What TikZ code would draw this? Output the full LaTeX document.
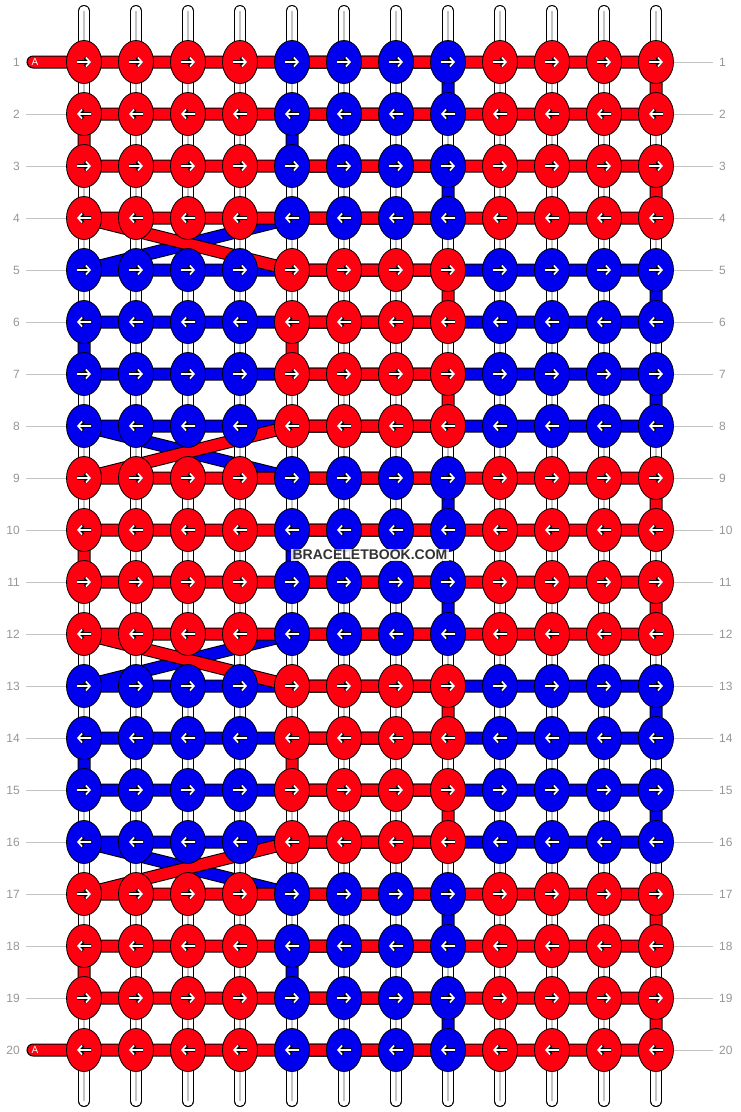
\documentclass[tikz,border=0pt]{standalone}
\usepackage{fontspec}
\setmainfont{Liberation Sans}
\usetikzlibrary{shapes.geometric,arrows.meta}
\definecolor{knotred}{RGB}{255,0,16}
\definecolor{knotblue}{RGB}{0,0,238}
\definecolor{lblgray}{RGB}{150,150,150}
\definecolor{linegray}{RGB}{195,195,195}
\definecolor{brandgray}{RGB}{51,51,51}

\begin{document}
\begin{tikzpicture}[x=1pt,y=-1pt]
\tikzstyle{every node}+=[inner sep=0pt]
\tikzstyle{knot}=[ellipse,draw=black,line width=0.8pt,minimum width=35pt,minimum height=43pt]
\tikzstyle{rim}=[black,line width=13pt,line cap=round,line join=round]
\tikzstyle{strand}=[line width=11pt,line cap=round,line join=round]
\tikzstyle{rowlbl}=[text=lblgray,font=\fontsize{12}{12}\selectfont,inner xsep=6pt]
\tikzstyle{arwrim}=[black,line width=3.2pt,-{Straight Barb[length=4pt,width=9pt]}]
\tikzstyle{arw}=[white,line width=1.6pt,-{Straight Barb[length=4pt,width=9pt]}]
\useasboundingbox (0,0) rectangle (740,1112);

\foreach \r in {1,...,20}
  \foreach \c in {1,...,12}
    \coordinate (p-\r-\c) at ({84+52*(\c-1)},{62+52*(\r-1)});
\coordinate (leadA) at (33,62);
\coordinate (leadZ) at (33,1050);

\foreach \c in {1,...,12} {
  \coordinate (top-\c) at ({84+52*(\c-1)},11);
  \coordinate (bot-\c) at ({84+52*(\c-1)},1101);
  \draw [black,line width=12pt,line cap=round] (top-\c) -- (bot-\c);
  \draw [white,line width=10pt,line cap=round] (top-\c) -- (bot-\c);
  \draw [linegray,line width=1.5pt] (top-\c) -- (bot-\c);
}

\foreach \r in {1,...,20} {
  \node [rowlbl,anchor=east] (ll-\r) at (26,{62+52*(\r-1)}) {\r};
  \node [rowlbl,anchor=west] (lr-\r) at (713,{62+52*(\r-1)}) {\r};
  \draw [linegray,line width=1pt] (ll-\r.east) -- (p-\r-1);
  \draw [linegray,line width=1pt] (p-\r-12) -- (lr-\r.west);
}

\def\bluepath{(p-1-5) -- (p-1-8) -- (p-2-8) -- (p-2-5) -- (p-3-5) -- (p-3-8) -- (p-4-8) -- (p-4-5)
  -- (p-5-1) -- (p-5-12) -- (p-6-12) -- (p-6-1) -- (p-7-1) -- (p-7-12) -- (p-8-12) -- (p-8-1)
  -- (p-9-5) -- (p-9-8) -- (p-10-8) -- (p-10-5) -- (p-11-5) -- (p-11-8) -- (p-12-8) -- (p-12-5)
  -- (p-13-1) -- (p-13-12) -- (p-14-12) -- (p-14-1) -- (p-15-1) -- (p-15-12) -- (p-16-12) -- (p-16-1)
  -- (p-17-5) -- (p-17-8) -- (p-18-8) -- (p-18-5) -- (p-19-5) -- (p-19-8) -- (p-20-8) -- (p-20-5)}
\def\redpath{(leadA) -- (p-1-12) -- (p-2-12) -- (p-2-1) -- (p-3-1) -- (p-3-12) -- (p-4-12) -- (p-4-1)
  -- (p-5-5) -- (p-5-8) -- (p-6-8) -- (p-6-5) -- (p-7-5) -- (p-7-8) -- (p-8-8) -- (p-8-5)
  -- (p-9-1) -- (p-9-12) -- (p-10-12) -- (p-10-1) -- (p-11-1) -- (p-11-12) -- (p-12-12) -- (p-12-1)
  -- (p-13-5) -- (p-13-8) -- (p-14-8) -- (p-14-5) -- (p-15-5) -- (p-15-8) -- (p-16-8) -- (p-16-5)
  -- (p-17-1) -- (p-17-12) -- (p-18-12) -- (p-18-1) -- (p-19-1) -- (p-19-12) -- (p-20-12) -- (p-20-1) -- (leadZ)}
\draw [rim] \bluepath;
\draw [strand,knotblue] \bluepath;
\draw [rim] \redpath;
\draw [strand,knotred] \redpath;

\node [text=white,font=\fontsize{10}{10}\selectfont] (leadlblA) at (35,62) {A};
\node [text=white,font=\fontsize{10}{10}\selectfont] (leadlblZ) at (35,1050) {A};

\foreach \r in {1,...,20}
  \foreach \c in {1,...,12} {
    \pgfmathtruncatemacro\blk{mod(floor((\r-1)/4),2)}
    \pgfmathtruncatemacro\inn{and(\c>4,\c<9)}
    \pgfmathtruncatemacro\isb{mod(\blk+\inn,2)}
    \pgfmathtruncatemacro\dir{1-2*mod(\r+1,2)}
    \ifnum\isb=1 \def\kcol{knotblue}\else\def\kcol{knotred}\fi
    \node [knot,fill=\kcol] (k-\r-\c) at (p-\r-\c) {};
    \draw [arwrim] (k-\r-\c.center) ++({-7*\dir},0) -- ++({14*\dir},0);
    \draw [arw] (k-\r-\c.center) ++({-7*\dir},0) -- ++({14*\dir},0);
  }

\node [fill=white,fill opacity=0.85,text opacity=1,text=brandgray,inner xsep=2pt,inner ysep=1pt,
  font=\bfseries\fontsize{14}{14}\selectfont] (brand) at (370,555) {BRACELETBOOK.COM};
\end{tikzpicture}
\end{document}
